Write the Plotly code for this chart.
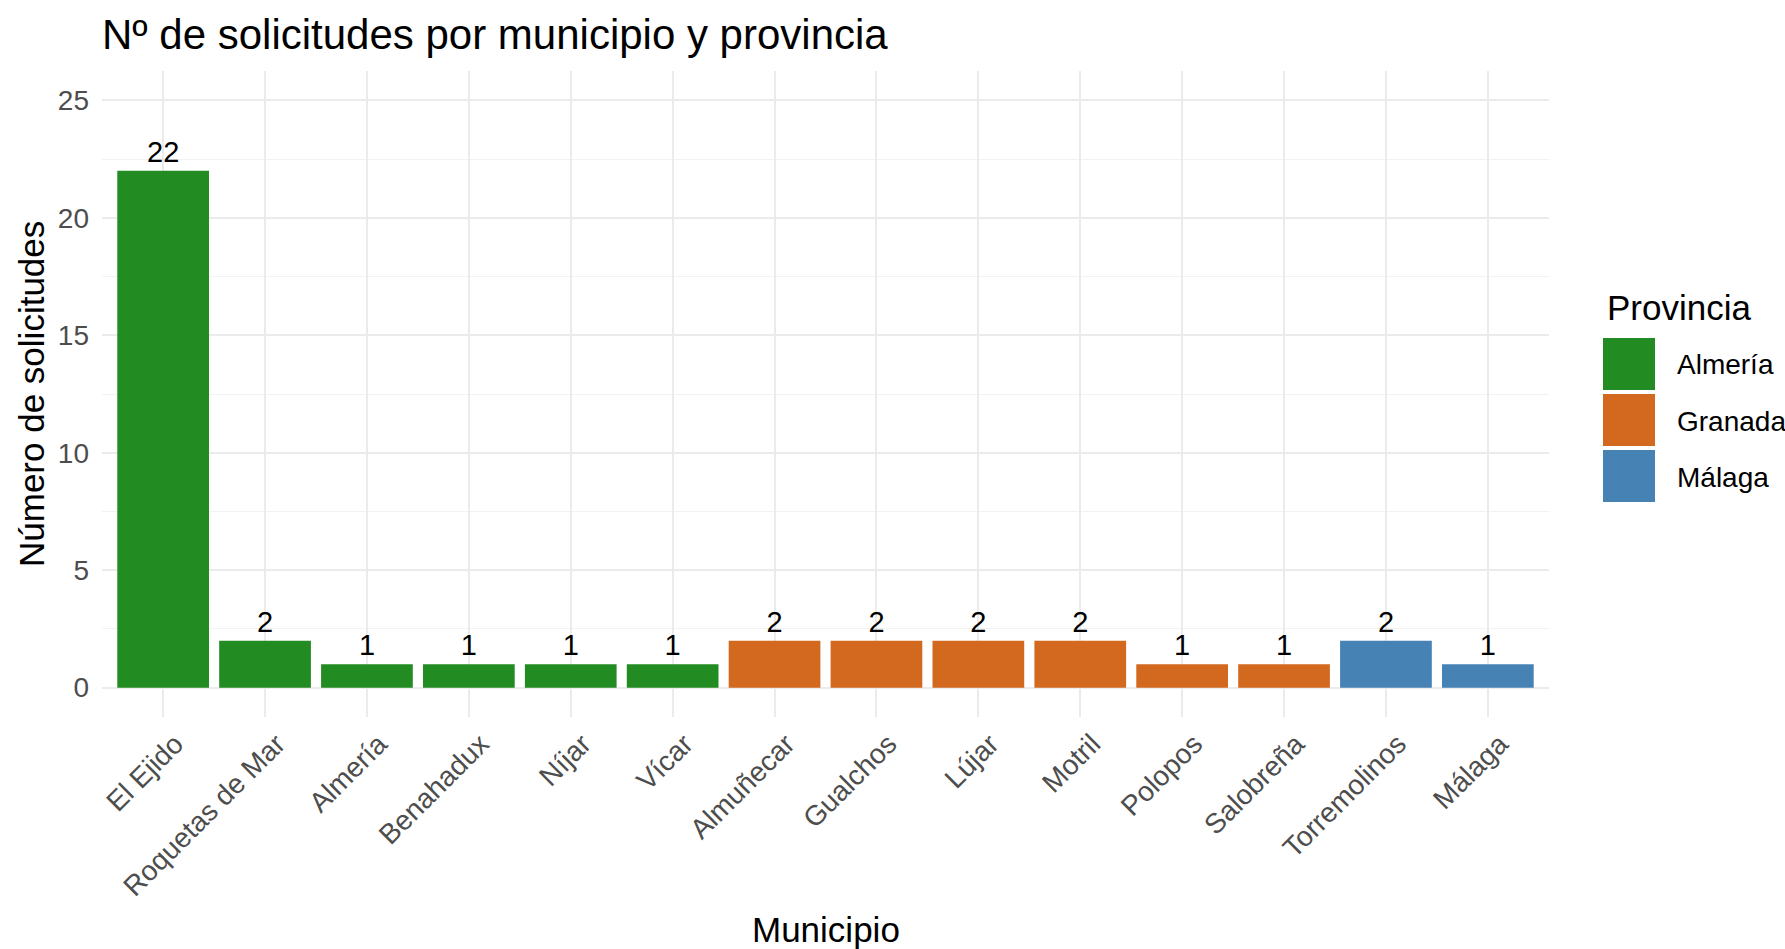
import plotly.graph_objects as go

municipios = ["El Ejido", "Roquetas de Mar", "Almería", "Benahadux", "Níjar", "Vícar",
              "Almuñecar", "Gualchos", "Lújar", "Motril", "Polopos", "Salobreña",
              "Torremolinos", "Málaga"]
solicitudes = [22, 2, 1, 1, 1, 1, 2, 2, 2, 2, 1, 1, 2, 1]
provincia = ["Almería"] * 6 + ["Granada"] * 6 + ["Málaga"] * 2
provincias = ["Almería", "Granada", "Málaga"]
colores = {"Almería": "#228B22", "Granada": "#D2691E", "Málaga": "#4682B4"}
y_ticks = [0, 5, 10, 15, 20, 25]

FONT = "Liberation Sans, Arial, sans-serif"

fig = go.Figure()
fig.add_trace(go.Bar(
    x=municipios, y=solicitudes,
    marker=dict(color=[colores[p] for p in provincia], line=dict(width=0)),
    width=0.9,
    text=[str(v) for v in solicitudes],
    textposition="outside",
    textfont=dict(family=FONT, size=29, color="black"),
    cliponaxis=False,
    showlegend=False,
))

shapes = []
annotations = []
# custom legend (ggplot style)
annotations.append(dict(xref="paper", yref="paper", x=(1605 - 102) / 1447, y=1 - (307 - 71) / 646,
                        text="Provincia", showarrow=False, xanchor="left", yanchor="middle",
                        font=dict(family=FONT, size=35, color="black")))
for i, p in enumerate(provincias):
    top = 338 + i * 56
    shapes.append(dict(type="rect", xref="paper", yref="paper",
                       x0=(1603 - 102) / 1447, x1=(1655 - 102) / 1447,
                       y0=1 - (top + 52 - 71) / 646, y1=1 - (top - 71) / 646,
                       fillcolor=colores[p], line=dict(width=0)))
    annotations.append(dict(xref="paper", yref="paper", x=(1675 - 102) / 1447,
                            y=1 - (top + 27 - 71) / 646,
                            text=p, showarrow=False, xanchor="left", yanchor="middle",
                            font=dict(family=FONT, size=28, color="black")))
# axis titles
annotations.append(dict(xref="paper", yref="paper", x=0.5, y=1 - (929 - 71) / 646,
                        text="Municipio", showarrow=False, xanchor="center", yanchor="middle",
                        font=dict(family=FONT, size=35, color="black")))
annotations.append(dict(xref="paper", yref="paper", x=(31 - 102) / 1447, y=0.5,
                        text="Número de solicitudes", showarrow=False, textangle=-90,
                        xanchor="center", yanchor="middle",
                        font=dict(family=FONT, size=35, color="black")))

fig.update_layout(
    width=1785, height=949,
    margin=dict(l=102, r=236, t=71, b=232, autoexpand=False),
    paper_bgcolor="white", plot_bgcolor="white",
    title=dict(text="Nº de solicitudes por municipio y provincia", x=102 / 1785, xanchor="left",
               y=1 - 34 / 949, yanchor="middle", font=dict(family=FONT, size=42, color="black")),
    bargap=0.1,
    shapes=shapes,
    annotations=annotations,
)
fig.update_xaxes(
    range=[-0.6, len(municipios) - 0.4],
    showgrid=True, gridcolor="#EBEBEB", gridwidth=1.5,
    tickangle=-45, ticks="", showline=False, zeroline=False,
    tickfont=dict(family=FONT, size=28, color="#4D4D4D"),
    ticklabelshift=12,
    ticklabelstandoff=4,
)
fig.update_yaxes(
    range=[-1.25, 26.25],
    tickvals=y_ticks,
    showgrid=True, gridcolor="#EBEBEB", gridwidth=1.5,
    minor=dict(tickvals=[2.5, 7.5, 12.5, 17.5, 22.5], showgrid=True, gridcolor="#F2F2F2", gridwidth=1),
    ticks="", showline=False, zeroline=False,
    tickfont=dict(family=FONT, size=28, color="#4D4D4D"),
    ticklabelstandoff=12,
)

fig.write_html("out.html")
